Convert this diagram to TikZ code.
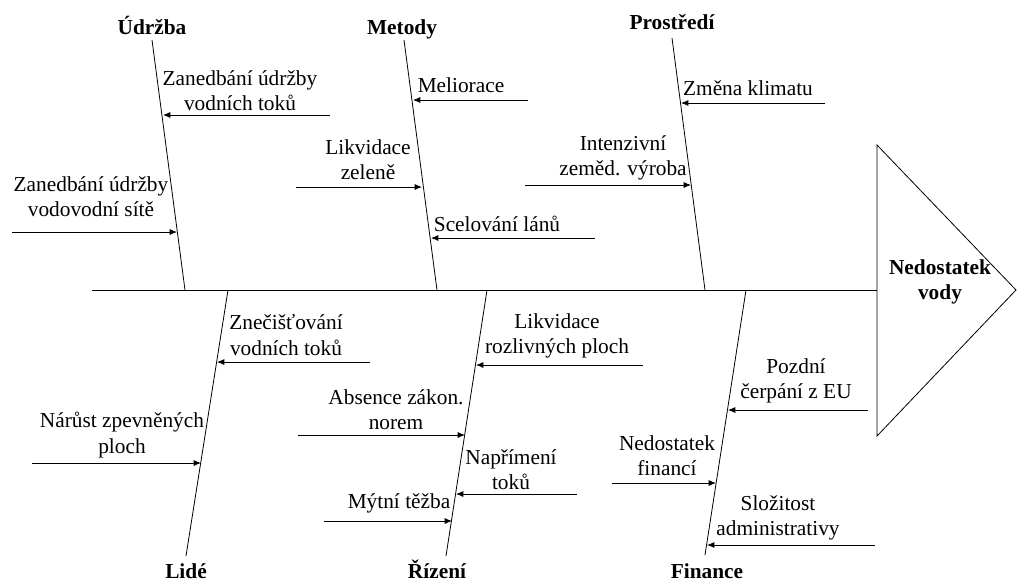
\documentclass[tikz,border=0pt]{standalone}
\usepackage{fontspec}
\setmainfont{Liberation Serif}
\usetikzlibrary{arrows.meta}
\begin{document}
\begin{tikzpicture}[x=0.75pt,y=-0.75pt,
  bone/.style={draw=black, line width=0.6pt},
  cause/.style={draw=black, line width=0.6pt, -{Latex[length=5.5pt,width=4.5pt]}},
  lbl/.style={align=center, inner sep=0pt, font=\fontsize{16}{19}\selectfont},
  cat/.style={inner sep=0pt, anchor=base, font=\fontsize{16}{19}\selectfont\bfseries}]
\useasboundingbox (0,0) rectangle (1017,583);

% spine and head
\coordinate (s0) at (92,290);
\coordinate (h0) at (877,290);
\coordinate (h1) at (877,145);
\coordinate (h2) at (1016,290);
\coordinate (h3) at (877,436);
\draw[bone] (s0) -- (h0);
\draw[bone] (h1) -- (h2) -- (h3) -- cycle;
\node[cat, anchor=center, align=center] (head) at (940,282) {Nedostatek\\vody};

% bones
\coordinate (u1) at (152,40);  \coordinate (u2) at (185,290);
\coordinate (m1) at (404,40);  \coordinate (m2) at (437,290);
\coordinate (p1) at (672,38);  \coordinate (p2) at (705,290);
\coordinate (l1) at (228,290); \coordinate (l2) at (186,556);
\coordinate (r1) at (487,290); \coordinate (r2) at (446,556);
\coordinate (f1) at (746,290); \coordinate (f2) at (705,555);
\draw[bone] (u1) -- (u2);
\draw[bone] (m1) -- (m2);
\draw[bone] (p1) -- (p2);
\draw[bone] (l1) -- (l2);
\draw[bone] (r1) -- (r2);
\draw[bone] (f1) -- (f2);

% category labels
\node[cat] (cu) at (152,34) {Údržba};
\node[cat] (cm) at (402,34) {Metody};
\node[cat] (cp) at (672,29) {Prostředí};
\node[cat] (cl) at (186,578) {Lidé};
\node[cat] (cr) at (437,578) {Řízení};
\node[cat] (cf) at (707,578) {Finance};

% Údržba causes
\node[lbl] (t1) at (240,91) {Zanedbání údržby\\vodních toků};
\coordinate (a1s) at (330,115); \coordinate (a1e) at (163,115);
\draw[cause] (a1s) -- (a1e);
\node[lbl] (t2) at (91,197) {Zanedbání údržby\\vodovodní sítě};
\coordinate (a2s) at (12,232); \coordinate (a2e) at (177,232);
\draw[cause] (a2s) -- (a2e);

% Metody causes
\node[lbl] (t3) at (461,85) {Meliorace};
\coordinate (a3s) at (528,100); \coordinate (a3e) at (413,100);
\draw[cause] (a3s) -- (a3e);
\node[lbl] (t4) at (368,160) {Likvidace\\zeleně};
\coordinate (a4s) at (296,187); \coordinate (a4e) at (422,187);
\draw[cause] (a4s) -- (a4e);
\node[lbl] (t5) at (497,224) {Scelování lánů};
\coordinate (a5s) at (595,238); \coordinate (a5e) at (431,238);
\draw[cause] (a5s) -- (a5e);

% Prostředí causes
\node[lbl] (t6) at (748,88) {Změna klimatu};
\coordinate (a6s) at (825,103); \coordinate (a6e) at (681,103);
\draw[cause] (a6s) -- (a6e);
\node[lbl] (t7) at (623,158) {Intenzivní\\zeměd. výroba};
\coordinate (a7s) at (525,185); \coordinate (a7e) at (691,185);
\draw[cause] (a7s) -- (a7e);

% Lidé causes
\node[lbl] (b1) at (286,335) {Znečišťování\\vodních toků};
\coordinate (b1s) at (370,362); \coordinate (b1e) at (217,362);
\draw[cause] (b1s) -- (b1e);
\node[lbl] (b2) at (122,435) {Nárůst zpevněných\\ploch};
\coordinate (b2s) at (32,463); \coordinate (b2e) at (201,463);
\draw[cause] (b2s) -- (b2e);

% Řízení causes
\node[lbl] (b3) at (557,336) {Likvidace\\rozlivných ploch};
\coordinate (b3s) at (643,365); \coordinate (b3e) at (476,365);
\draw[cause] (b3s) -- (b3e);
\node[lbl] (b4) at (396,410) {Absence zákon.\\norem};
\coordinate (b4s) at (298,435); \coordinate (b4e) at (465,435);
\draw[cause] (b4s) -- (b4e);
\node[lbl] (b5) at (511,470) {Napřímení\\toků};
\coordinate (b5s) at (577,494); \coordinate (b5e) at (456,494);
\draw[cause] (b5s) -- (b5e);
\node[lbl] (b6) at (399,503) {Mýtní těžba};
\coordinate (b6s) at (324,521); \coordinate (b6e) at (452,521);
\draw[cause] (b6s) -- (b6e);

% Finance causes
\node[lbl] (b7) at (796,381) {Pozdní\\čerpání z EU};
\coordinate (b7s) at (868,410); \coordinate (b7e) at (728,410);
\draw[cause] (b7s) -- (b7e);
\node[lbl] (b8) at (667,456) {Nedostatek\\financí};
\coordinate (b8s) at (612,483); \coordinate (b8e) at (716,483);
\draw[cause] (b8s) -- (b8e);
\node[lbl] (b9) at (778,518) {Složitost\\administrativy};
\coordinate (b9s) at (875,545); \coordinate (b9e) at (707,545);
\draw[cause] (b9s) -- (b9e);
\end{tikzpicture}
\end{document}
